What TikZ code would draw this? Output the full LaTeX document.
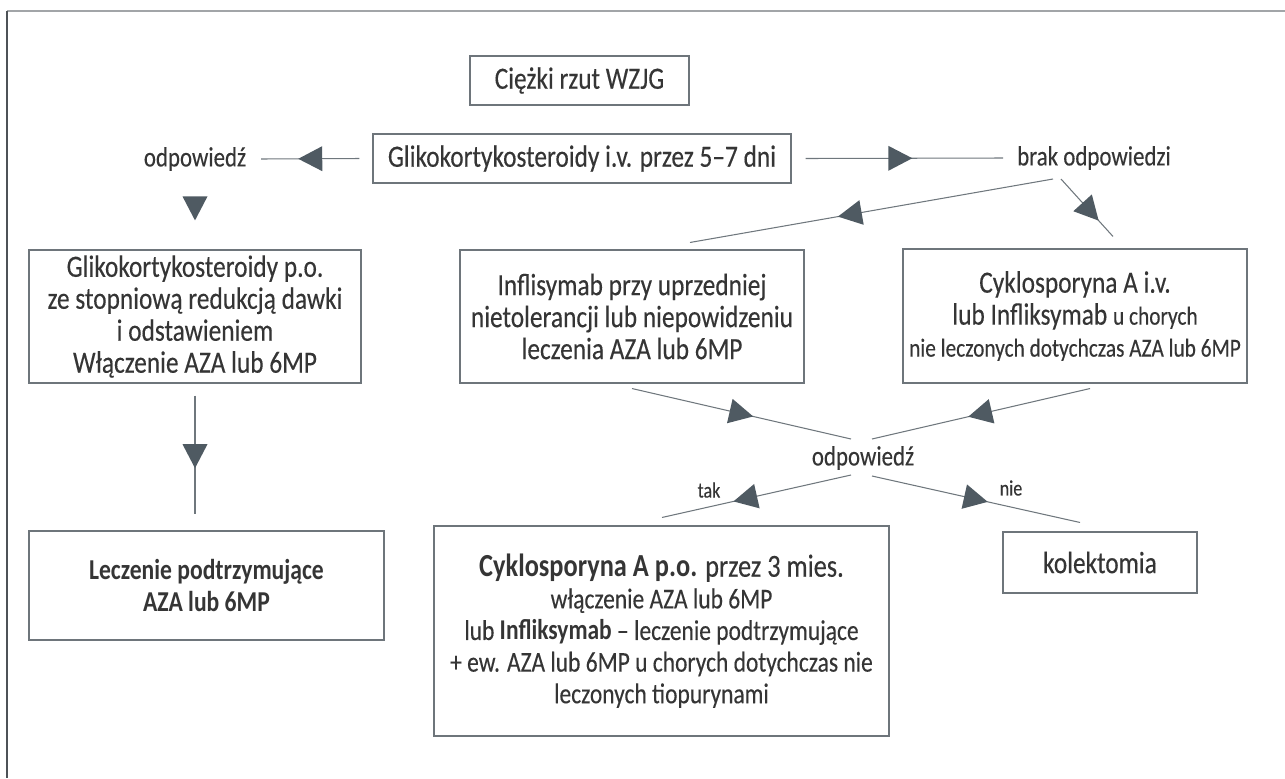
\documentclass[tikz,border=0pt]{standalone}
\usepackage{fontspec}
\setmainfont{Carlito}[FakeStretch=0.82, UprightFeatures={FakeBold=0.25}]
\usetikzlibrary{calc,decorations.markings}

\definecolor{txt}{HTML}{353535}
\definecolor{frm}{HTML}{6E757B}
\definecolor{head}{HTML}{4F5A62}
\definecolor{ln}{HTML}{6F777D}
\definecolor{topln}{HTML}{A2A5A8}
\definecolor{leftln}{HTML}{4D5257}

% type sizes (1 unit = 0.02cm)
\newcommand\mainsz{\fontsize{17.6}{18.2}\selectfont}
\newcommand\lblsz{\fontsize{15.9}{18}\selectfont}
\newcommand\subsz{\fontsize{14.8}{18}\selectfont}
\newcommand\tinysz{\fontsize{12.5}{14}\selectfont}
\newcommand\bodysz{\fontsize{16.3}{18}\selectfont}
\newcommand\headsz{\fontsize{18.3}{18}\selectfont}

\tikzset{
  box/.style={draw=frm, line width=0.6pt, inner sep=0pt, align=center, text=txt, font=\mainsz},
  sz/.style 2 args={minimum width=#1*0.02cm, minimum height=#2*0.02cm},
  lbl/.style={inner sep=0pt, text=txt, font=\lblsz},
  conn/.style={draw=ln, line width=0.6pt},
  tri/.style={postaction={decorate}, decoration={markings,
      mark=at position #1 with {\fill[head] (12,0) -- (-12,12.5) -- (-12,-12.5) -- cycle;}}},
}

\begin{document}
\begin{tikzpicture}[x=0.02cm, y=-0.02cm]
\useasboundingbox (0,0) rectangle (1285,778);

% frame
\draw[topln, line width=1.1pt] (7,11) -- (1285,11);
\draw[leftln, line width=0.9pt] (7,11) -- (7,778);

% boxes and labels
\node[box, sz={219}{49}] (rzut) at (579.5,80.5) {Ciężki rzut WZJG};
\node[box, sz={418}{49}] (glik) at (582,158.5) {Glikokortykosteroidy i.v. przez 5–7 dni};
\node[lbl] (odp1) at (195,159) {odpowiedź};
\node[lbl] (brak) at (1094,158) {brak odpowiedzi};

\node[box, sz={332}{133}] (gpo) at (195,316.5)
  {Glikokortykosteroidy p.o.\\ze stopniową redukcją dawki\\i odstawieniem\\Włączenie AZA lub 6MP};
\node[box, sz={344}{133}] (infl) at (632,316.5)
  {Inflisymab przy uprzedniej\\nietolerancji lub niepowidzeniu\\leczenia AZA lub 6MP};
\node[box, sz={344}{134}] (cyk) at (1075,316)
  {Cyklosporyna A i.v.\\lub Infliksymab {\subsz u chorych}\\{\subsz nie leczonych dotychczas AZA lub 6MP}};

\node[lbl] (odp2) at (863,458) {odpowiedź};
\node[lbl, font=\tinysz] (tak) at (709,490) {tak};
\node[lbl, font=\tinysz] (nie) at (1011,488) {nie};

\node[box, font=\fontsize{16.4}{18.2}\selectfont\bfseries, sz={355}{109}] (lecz) at (206.5,585.5)
  {Leczenie podtrzymujące\\AZA lub 6MP};
\node[box, font=\bodysz, sz={455}{210}] (cykpo) at (661.5,631)
  {{\headsz\textbf{Cyklosporyna A p.o.} przez 3 mies.}\\
   włączenie AZA lub 6MP\\
   lub \textbf{Infliksymab} – leczenie podtrzymujące\\
   + ew. AZA lub 6MP u chorych dotychczas nie\\
   leczonych tiopurynami};
\node[box, sz={194}{61}] (kol) at (1100,562.5) {kolektomia};

% connectors
\draw[conn, tri=0.5] ($(glik.west)+(-13,0)$) -- ($(odp1.center)+(66,0)$);
\draw[conn, tri=0.48] ($(glik.east)+(14,0)$) -- ($(brak.center)+(-91,0)$);
\path[tri=0.47] ($(odp1.center)+(0,13)$) -- (gpo.north);
\draw[conn, tri=0.51] ($(gpo.south)+(0,12)$) -- ($(lecz.north)+(-11.5,-16)$);
\draw[conn, tri=0.56] ($(brak.center)+(-41,21)$) -- ($(infl.north)+(58,-7)$);
\draw[conn, tri=0.57] ($(brak.center)+(-33,21)$) -- ($(cyk.north)+(38,-12)$);
\draw[conn, tri=0.5] ($(infl.south)+(0,5)$) -- ($(odp2.center)+(-12,-19)$);
\draw[conn, tri=0.505] ($(cyk.south)+(15,5)$) -- ($(odp2.center)+(9,-19)$);
\draw[conn, tri=0.56] ($(odp2.center)+(-12,17)$) -- ($(cykpo.north)+(0.5,-8)$);
\draw[conn, tri=0.5] ($(odp2.center)+(9,18)$) -- ($(kol.north)+(-20,-9)$);
\end{tikzpicture}
\end{document}
